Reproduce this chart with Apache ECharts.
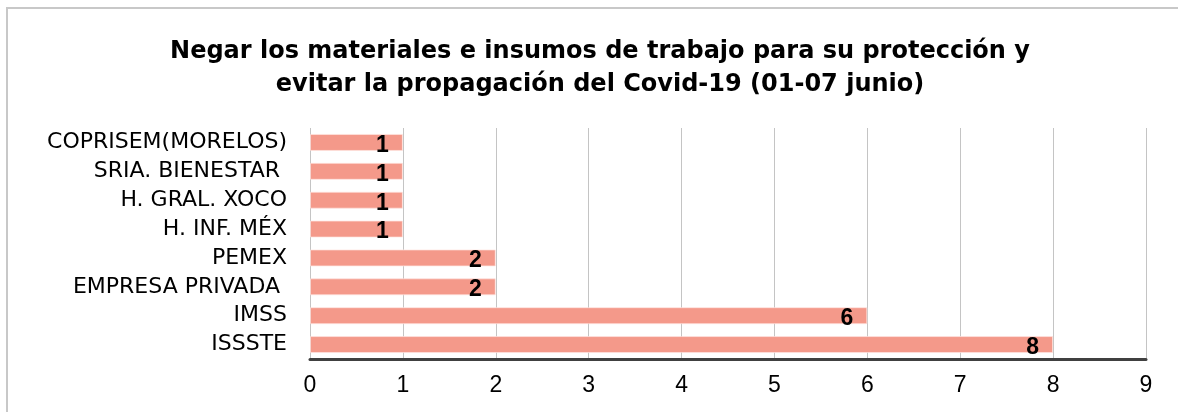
<!DOCTYPE html>
<html>
<head>
<meta charset="utf-8">
<script src="https://cdn.jsdelivr.net/npm/echarts@6/dist/echarts.min.js"></script>
<style>
	html, body { margin: 0; padding: 0; background: #fff; }
	#chart { width: 1178px; height: 412px; }
</style>
</head>
<body>
<div id="chart"></div>
<script>
// categories, bottom to top as drawn on the y axis
var categories = ['ISSSTE', 'IMSS', 'EMPRESA PRIVADA ', 'PEMEX', 'H. INF. MÉX', 'H. GRAL. XOCO', 'SRIA. BIENESTAR ', 'COPRISEM(MORELOS)'];
var values = [8, 6, 2, 2, 1, 1, 1, 1];
var titleText = 'Negar los materiales e insumos de trabajo para su protección y\nevitar la propagación del Covid-19 (01-07 junio)';

var myChart = echarts.init(document.getElementById('chart'));
var font = 'Liberation Sans, Arial, sans-serif';
var wideFont = 'DejaVu Sans, Liberation Sans, sans-serif';

var option = {
	animation: false,
	backgroundColor: '#fff',
	title: {
		text: titleText,
		left: 595,
		top: 30,
		textAlign: 'center',
		textStyle: {
			fontFamily: wideFont,
			fontSize: 24,
			fontWeight: 'bold',
			color: '#000',
			lineHeight: 33
		}
	},
	// outer frame of the chart (only top and left edges visible)
	graphic: [{
		type: 'rect',
		shape: { x: 7, y: 8, width: 1200, height: 420 },
		style: { fill: 'none', stroke: '#c8c8c8', lineWidth: 2 },
		silent: true
	}],
	grid: {
		left: 310,
		right: 32,
		top: 128,
		bottom: 53
	},
	xAxis: {
		type: 'value',
		min: 0,
		max: 9,
		interval: 1,
		axisLine: { show: true, onZero: false, lineStyle: { color: '#404040', width: 3 } },
		axisTick: { show: false },
		axisLabel: {
			fontFamily: font,
			fontSize: 23,
			color: '#000',
			margin: 15
		},
		splitLine: { show: true, lineStyle: { color: '#c4c4c4', width: 1 } }
	},
	yAxis: {
		type: 'category',
		data: categories,
		axisLine: { show: false },
		axisTick: { show: false },
		axisLabel: {
			fontFamily: wideFont,
			fontSize: 22,
			color: '#000',
			margin: 23
		}
	},
	series: [{
		type: 'bar',
		data: values,
		barWidth: 17,
		itemStyle: {
			color: '#F4998A',
			borderColor: 'rgba(255,230,225,0.7)',
			borderWidth: 1
		},
		label: {
			show: true,
			position: 'insideRight',
			offset: [0, 3],
			fontFamily: font,
			fontSize: 23,
			fontWeight: 'bold',
			color: '#000',
			distance: 14
		}
	}]
};
myChart.setOption(option);
</script>
</body>
</html>
